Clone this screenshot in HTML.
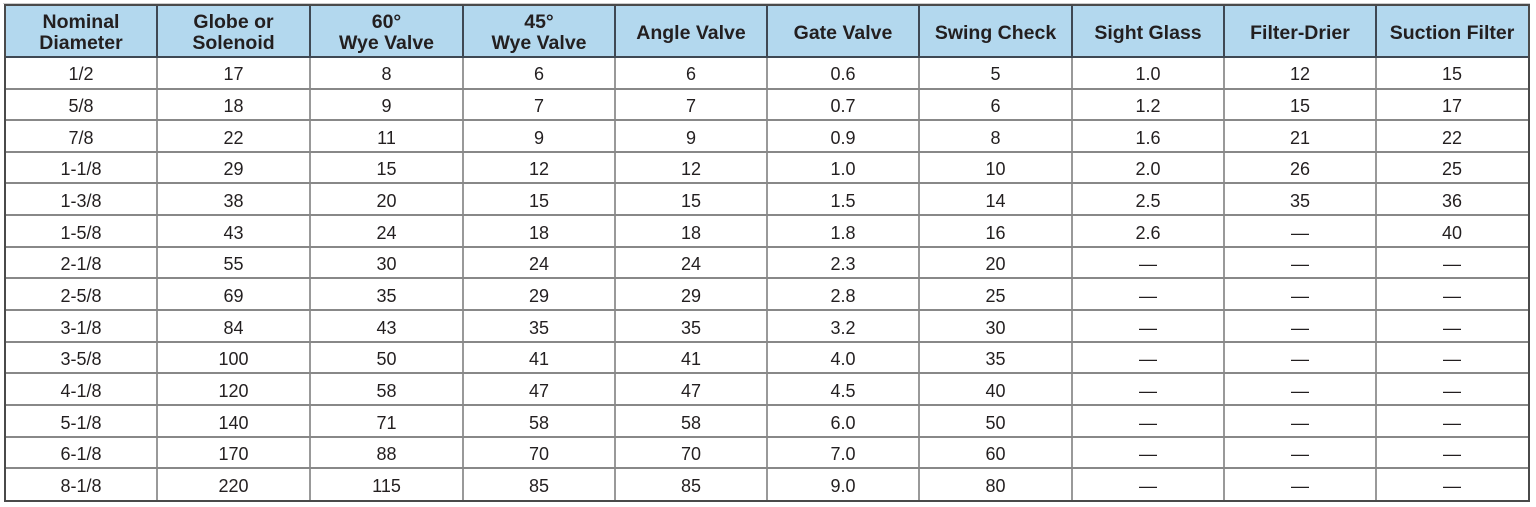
<!DOCTYPE html>
<html><head><meta charset="utf-8"><style>
html,body{margin:0;padding:0;background:#fff;}
body{width:1536px;height:507px;position:relative;overflow:hidden;font-family:"Liberation Sans",Arial,sans-serif;color:#231f20;}
#t{position:absolute;left:5px;top:5px;width:1523px;height:496px;display:grid;grid-template-columns:152px 153px 153px 152px 152px 152px 153px 152px 152px 152px;grid-template-rows:52.5px repeat(14,31.68px);}
#t div{display:flex;align-items:center;justify-content:center;text-align:center;}
#t .h{background:#b3d8ee;font-weight:bold;font-size:19.5px;line-height:20.5px;padding-top:3px;box-sizing:border-box;}
#t .c{font-size:18px;padding-top:3px;box-sizing:border-box;}
.l{position:absolute;}
.v{width:2px;background:#999;top:58px;height:443px;}
.vh{width:2px;background:#3e4853;top:5px;height:53px;}
.hr{height:2px;background:#888;left:5px;width:1523px;}
</style></head><body>
<div id="t">
<div class="h">Nominal<br>Diameter</div><div class="h">Globe or<br>Solenoid</div><div class="h">60°<br>Wye Valve</div><div class="h">45°<br>Wye Valve</div><div class="h">Angle Valve</div><div class="h">Gate Valve</div><div class="h">Swing Check</div><div class="h">Sight Glass</div><div class="h">Filter-Drier</div><div class="h">Suction Filter</div>
<div class="c">1/2</div><div class="c">17</div><div class="c">8</div><div class="c">6</div><div class="c">6</div><div class="c">0.6</div><div class="c">5</div><div class="c">1.0</div><div class="c">12</div><div class="c">15</div>
<div class="c">5/8</div><div class="c">18</div><div class="c">9</div><div class="c">7</div><div class="c">7</div><div class="c">0.7</div><div class="c">6</div><div class="c">1.2</div><div class="c">15</div><div class="c">17</div>
<div class="c">7/8</div><div class="c">22</div><div class="c">11</div><div class="c">9</div><div class="c">9</div><div class="c">0.9</div><div class="c">8</div><div class="c">1.6</div><div class="c">21</div><div class="c">22</div>
<div class="c">1-1/8</div><div class="c">29</div><div class="c">15</div><div class="c">12</div><div class="c">12</div><div class="c">1.0</div><div class="c">10</div><div class="c">2.0</div><div class="c">26</div><div class="c">25</div>
<div class="c">1-3/8</div><div class="c">38</div><div class="c">20</div><div class="c">15</div><div class="c">15</div><div class="c">1.5</div><div class="c">14</div><div class="c">2.5</div><div class="c">35</div><div class="c">36</div>
<div class="c">1-5/8</div><div class="c">43</div><div class="c">24</div><div class="c">18</div><div class="c">18</div><div class="c">1.8</div><div class="c">16</div><div class="c">2.6</div><div class="c">—</div><div class="c">40</div>
<div class="c">2-1/8</div><div class="c">55</div><div class="c">30</div><div class="c">24</div><div class="c">24</div><div class="c">2.3</div><div class="c">20</div><div class="c">—</div><div class="c">—</div><div class="c">—</div>
<div class="c">2-5/8</div><div class="c">69</div><div class="c">35</div><div class="c">29</div><div class="c">29</div><div class="c">2.8</div><div class="c">25</div><div class="c">—</div><div class="c">—</div><div class="c">—</div>
<div class="c">3-1/8</div><div class="c">84</div><div class="c">43</div><div class="c">35</div><div class="c">35</div><div class="c">3.2</div><div class="c">30</div><div class="c">—</div><div class="c">—</div><div class="c">—</div>
<div class="c">3-5/8</div><div class="c">100</div><div class="c">50</div><div class="c">41</div><div class="c">41</div><div class="c">4.0</div><div class="c">35</div><div class="c">—</div><div class="c">—</div><div class="c">—</div>
<div class="c">4-1/8</div><div class="c">120</div><div class="c">58</div><div class="c">47</div><div class="c">47</div><div class="c">4.5</div><div class="c">40</div><div class="c">—</div><div class="c">—</div><div class="c">—</div>
<div class="c">5-1/8</div><div class="c">140</div><div class="c">71</div><div class="c">58</div><div class="c">58</div><div class="c">6.0</div><div class="c">50</div><div class="c">—</div><div class="c">—</div><div class="c">—</div>
<div class="c">6-1/8</div><div class="c">170</div><div class="c">88</div><div class="c">70</div><div class="c">70</div><div class="c">7.0</div><div class="c">60</div><div class="c">—</div><div class="c">—</div><div class="c">—</div>
<div class="c">8-1/8</div><div class="c">220</div><div class="c">115</div><div class="c">85</div><div class="c">85</div><div class="c">9.0</div><div class="c">80</div><div class="c">—</div><div class="c">—</div><div class="c">—</div>
</div>
<!-- vertical body lines -->
<div class="l v" style="left:156px"></div><div class="l v" style="left:309px"></div><div class="l v" style="left:462px"></div><div class="l v" style="left:614px"></div><div class="l v" style="left:766px"></div><div class="l v" style="left:918px"></div><div class="l v" style="left:1071px"></div><div class="l v" style="left:1223px"></div><div class="l v" style="left:1375px"></div>
<!-- vertical header lines -->
<div class="l vh" style="left:156px"></div><div class="l vh" style="left:309px"></div><div class="l vh" style="left:462px"></div><div class="l vh" style="left:614px"></div><div class="l vh" style="left:766px"></div><div class="l vh" style="left:918px"></div><div class="l vh" style="left:1071px"></div><div class="l vh" style="left:1223px"></div><div class="l vh" style="left:1375px"></div>
<!-- horizontal body lines -->
<div class="l hr" style="top:88px"></div><div class="l hr" style="top:119px"></div><div class="l hr" style="top:151px"></div><div class="l hr" style="top:182px"></div><div class="l hr" style="top:214px"></div><div class="l hr" style="top:246px"></div><div class="l hr" style="top:277px"></div><div class="l hr" style="top:309px"></div><div class="l hr" style="top:341px"></div><div class="l hr" style="top:372px"></div><div class="l hr" style="top:404px"></div><div class="l hr" style="top:436px"></div><div class="l hr" style="top:467px"></div>
<!-- header bottom -->
<div class="l" style="left:5px;top:56px;width:1523px;height:2px;background:#3e4853"></div>
<!-- outer border -->
<div class="l" style="left:3px;top:3px;width:1527px;height:1px;background:#ccc"></div>
<div class="l" style="left:4px;top:4px;width:1522px;height:494px;border:2px solid #4a4a4a"></div>
</body></html>
